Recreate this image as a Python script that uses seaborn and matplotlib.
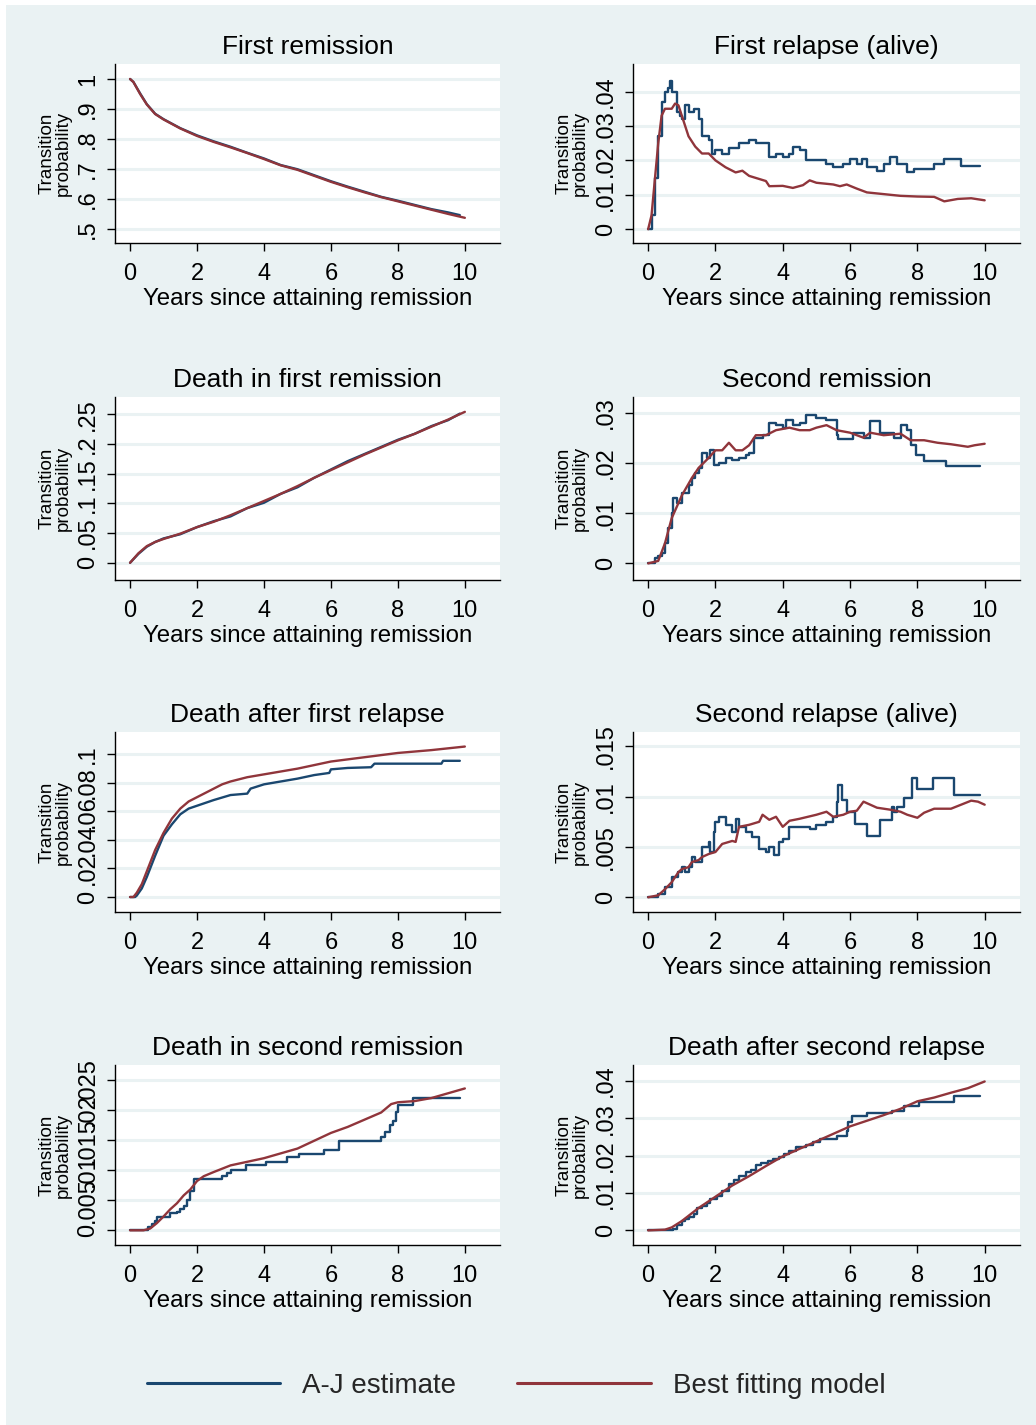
import matplotlib
matplotlib.use("Agg")
import matplotlib.pyplot as plt
import seaborn as sns
from matplotlib.lines import Line2D
from matplotlib.patches import Rectangle

sns.set_style("white")
plt.rcParams['font.family'] = ['Liberation Sans', 'DejaVu Sans']

NAVY = '#1A476F'
MAROON = '#90353B'
BG = '#EAF2F3'

# ---------------- data ----------------
titles = ["First remission", "First relapse (alive)",
          "Death in first remission", "Second remission",
          "Death after first relapse", "Second relapse (alive)",
          "Death in second remission", "Death after second relapse"]

# First remission
fr_aj_t = [0, 0.1, 0.3, 0.5, 0.75, 1, 1.5, 2, 2.5, 3, 3.5, 4, 4.5, 5, 5.5, 6, 6.5, 7, 7.5, 8, 8.5, 9, 9.5, 9.85]
fr_aj_p = [1, 0.99, 0.952, 0.916, 0.884, 0.866, 0.836, 0.812, 0.792, 0.774, 0.754, 0.735, 0.713, 0.699,
           0.679, 0.659, 0.641, 0.624, 0.607, 0.594, 0.58, 0.566, 0.555, 0.546]
fr_fit_t = [0, 0.1, 0.3, 0.5, 0.75, 1, 1.5, 2, 2.5, 3, 3.5, 4, 4.5, 5, 5.5, 6, 6.5, 7, 7.5, 8, 8.5, 9, 9.5, 10]
fr_fit_p = [1, 0.99, 0.95, 0.915, 0.883, 0.865, 0.835, 0.81, 0.79, 0.772, 0.753, 0.733, 0.712, 0.697,
            0.677, 0.657, 0.639, 0.622, 0.606, 0.592, 0.578, 0.564, 0.55, 0.537]

# First relapse (alive)
rl1_aj_t = [0, 0.1, 0.2, 0.3, 0.4, 0.5, 0.6, 0.65, 0.7, 0.85, 0.95, 1.0, 1.1, 1.2, 1.35, 1.5, 1.6, 1.8,
            1.9, 2.0, 2.2, 2.4, 2.7, 3.0, 3.2, 3.5, 3.6, 3.8, 4.0, 4.2, 4.3, 4.5, 4.7, 5.0, 5.3, 5.5,
            5.8, 6.0, 6.2, 6.35, 6.5, 6.8, 7.0, 7.2, 7.4, 7.7, 7.9, 8.5, 8.8, 9.3, 9.85]
rl1_aj_p = [0, 0.004, 0.015, 0.027, 0.037, 0.040, 0.041, 0.043, 0.040, 0.034, 0.033, 0.032, 0.036, 0.034,
            0.035, 0.032, 0.027, 0.026, 0.022, 0.023, 0.022, 0.0235, 0.025, 0.026, 0.025, 0.025, 0.021,
            0.022, 0.021, 0.022, 0.024, 0.023, 0.020, 0.020, 0.019, 0.018, 0.019, 0.0205, 0.019, 0.0205,
            0.018, 0.017, 0.019, 0.021, 0.019, 0.0165, 0.0175, 0.019, 0.0205, 0.0183, 0.0183]
rl1_fit_t = [0, 0.1, 0.3, 0.4, 0.5, 0.7, 0.8, 0.9, 1.0, 1.2, 1.4, 1.6, 1.8, 2.0, 2.3, 2.6, 2.8, 3.0, 3.5,
             3.6, 4.0, 4.3, 4.6, 4.8, 5.0, 5.5, 5.7, 5.9, 6.2, 6.5, 7.0, 7.5, 8.0, 8.5, 8.8, 9.2, 9.6, 10]
rl1_fit_p = [0, 0.004, 0.025, 0.033, 0.035, 0.035, 0.0365, 0.036, 0.033, 0.027, 0.024, 0.022, 0.022, 0.020,
             0.018, 0.0165, 0.017, 0.0155, 0.014, 0.0125, 0.0126, 0.012, 0.0128, 0.0142, 0.0135, 0.013,
             0.0125, 0.013, 0.0118, 0.0107, 0.0102, 0.0097, 0.0095, 0.0094, 0.0081, 0.0088, 0.009, 0.0084]

# Death in first remission
df1_aj_t = [0, 0.25, 0.5, 0.75, 1, 1.5, 2, 2.5, 3, 3.5, 4, 4.5, 5, 5.5, 6, 6.5, 7, 7.5, 8, 8.5, 9, 9.5, 9.85]
df1_aj_p = [0, 0.015, 0.027, 0.035, 0.041, 0.048, 0.06, 0.07, 0.078, 0.092, 0.101, 0.116, 0.127, 0.143,
            0.157, 0.171, 0.183, 0.195, 0.207, 0.217, 0.23, 0.24, 0.251]
df1_fit_t = [0, 0.25, 0.5, 0.75, 1, 1.5, 2, 2.5, 3, 3.5, 4, 4.5, 5, 5.5, 6, 6.5, 7, 7.5, 8, 8.5, 9, 9.5, 10]
df1_fit_p = [0, 0.016, 0.028, 0.035, 0.04, 0.049, 0.06, 0.069, 0.08, 0.092, 0.104, 0.116, 0.129, 0.143,
             0.156, 0.169, 0.182, 0.194, 0.206, 0.217, 0.229, 0.241, 0.254]

# Second remission
sr_aj_t = [0, 0.2, 0.3, 0.4, 0.5, 0.6, 0.7, 0.75, 0.85, 1.0, 1.2, 1.3, 1.4, 1.5, 1.6, 1.75, 1.85, 1.95,
           2.1, 2.3, 2.5, 2.7, 2.9, 3.0, 3.15, 3.4, 3.6, 3.8, 4.0, 4.1, 4.3, 4.5, 4.7, 5.0, 5.3, 5.6,
           5.65, 6.1, 6.4, 6.6, 6.9, 7.3, 7.5, 7.7, 7.8, 7.95, 8.2, 8.85, 9.85]
sr_aj_p = [0, 0.001, 0.0015, 0.002, 0.004, 0.007, 0.010, 0.013, 0.012, 0.014, 0.0155, 0.017, 0.018, 0.019,
           0.022, 0.021, 0.0225, 0.0195, 0.020, 0.021, 0.0205, 0.021, 0.0215, 0.022, 0.025, 0.0255, 0.028,
           0.0275, 0.027, 0.0285, 0.0275, 0.028, 0.0295, 0.029, 0.0285, 0.0255, 0.0248, 0.026, 0.025,
           0.0284, 0.026, 0.025, 0.0275, 0.0265, 0.0235, 0.0216, 0.0204, 0.0194, 0.0194]
sr_fit_t = [0, 0.3, 0.5, 0.7, 1.0, 1.3, 1.5, 1.8, 2.0, 2.2, 2.4, 2.6, 2.8, 3.0, 3.2, 3.5, 3.8, 4.2, 4.5,
            4.8, 5.0, 5.3, 5.6, 6.0, 6.4, 6.6, 7.0, 7.5, 7.8, 8.2, 8.6, 9.0, 9.5, 9.7, 10]
sr_fit_p = [0, 0.0005, 0.004, 0.009, 0.0135, 0.017, 0.019, 0.021, 0.0225, 0.0225, 0.024, 0.0225, 0.0225,
            0.0235, 0.0255, 0.0255, 0.0265, 0.027, 0.0265, 0.0265, 0.027, 0.0275, 0.0265, 0.026, 0.025,
            0.026, 0.0255, 0.0258, 0.0245, 0.0245, 0.024, 0.0237, 0.0232, 0.0235, 0.0238]

# Death after first relapse
dr1_aj_t = [0, 0.15, 0.2, 0.35, 0.5, 0.75, 1.0, 1.25, 1.5, 1.75, 2.0, 2.5, 3.0, 3.5, 3.6, 4.0, 4.5, 5.0,
            5.5, 5.95, 6.0, 6.5, 7.2, 7.3, 9.3, 9.35, 9.85]
dr1_aj_p = [0, 0, 0.001, 0.006, 0.014, 0.029, 0.043, 0.051, 0.058, 0.062, 0.064, 0.068, 0.0715, 0.0725,
            0.076, 0.079, 0.081, 0.083, 0.0855, 0.087, 0.0895, 0.0905, 0.091, 0.0935, 0.0935, 0.0955, 0.0955]
dr1_fit_t = [0, 0.1, 0.2, 0.35, 0.5, 0.75, 1.0, 1.25, 1.5, 1.75, 2.0, 2.25, 2.5, 2.75, 3.0, 3.5, 4.0, 4.5,
             5.0, 5.5, 6.0, 7.0, 8.0, 9.0, 10]
dr1_fit_p = [0, 0, 0.003, 0.009, 0.018, 0.033, 0.045, 0.055, 0.062, 0.067, 0.070, 0.073, 0.076, 0.079,
             0.081, 0.084, 0.086, 0.088, 0.090, 0.0925, 0.095, 0.098, 0.101, 0.103, 0.1055]

# Second relapse (alive)
rl2_aj_t = [0, 0.3, 0.5, 0.7, 0.9, 1.0, 1.1, 1.2, 1.3, 1.4, 1.6, 1.8, 1.85, 1.95, 2.0, 2.1, 2.3, 2.5, 2.6,
            2.7, 2.9, 3.1, 3.3, 3.5, 3.6, 3.75, 3.9, 4.0, 4.2, 4.5, 4.8, 5.0, 5.3, 5.5, 5.6, 5.65, 5.75,
            5.9, 6.15, 6.5, 6.9, 7.25, 7.3, 7.4, 7.6, 7.85, 8.0, 8.45, 9.1, 9.85]
rl2_aj_p = [0, 0.0003, 0.001, 0.002, 0.0025, 0.003, 0.0025, 0.003, 0.004, 0.0035, 0.005, 0.0055, 0.0045,
            0.0065, 0.0075, 0.008, 0.0072, 0.0065, 0.0078, 0.007, 0.0065, 0.006, 0.0048, 0.0045, 0.005,
            0.0042, 0.0055, 0.0058, 0.007, 0.007, 0.0068, 0.0072, 0.0075, 0.008, 0.0095, 0.0112, 0.0097,
            0.0085, 0.0073, 0.0061, 0.0077, 0.009, 0.0085, 0.009, 0.0099, 0.0119, 0.0108, 0.0119, 0.0102,
            0.0102]
rl2_fit_t = [0, 0.3, 0.5, 0.7, 0.8, 0.9, 1.0, 1.2, 1.3, 1.5, 1.6, 1.8, 2.0, 2.2, 2.5, 2.6, 2.7, 3.0, 3.3,
             3.4, 3.6, 3.8, 4.0, 4.2, 4.5, 5.0, 5.3, 5.5, 5.8, 6.0, 6.2, 6.4, 6.6, 6.8, 7.2, 7.5, 7.7, 8.0,
             8.2, 8.5, 9.0, 9.3, 9.6, 9.8, 10]
rl2_fit_p = [0, 0.0002, 0.0008, 0.0015, 0.002, 0.0025, 0.0028, 0.003, 0.0035, 0.0037, 0.004, 0.0043,
             0.0045, 0.0053, 0.0056, 0.0055, 0.007, 0.0072, 0.0075, 0.0082, 0.0077, 0.008, 0.007, 0.0076,
             0.0078, 0.0082, 0.0085, 0.008, 0.0082, 0.0085, 0.0086, 0.0095, 0.0092, 0.0089, 0.0087,
             0.0085, 0.0082, 0.0079, 0.0084, 0.0088, 0.0088, 0.0092, 0.0096, 0.0095, 0.0092]

# Death in second remission
ds2_aj_t = [0, 0.5, 0.55, 0.65, 0.75, 0.8, 1.1, 1.2, 1.4, 1.5, 1.6, 1.7, 1.8, 1.9, 2.65, 2.75, 2.9, 3.0,
            3.4, 3.45, 4.0, 4.05, 4.65, 4.7, 5.0, 5.05, 5.75, 5.8, 6.2, 6.25, 7.4, 7.5, 7.6, 7.75, 7.85,
            7.95, 8.0, 8.4, 8.45, 9.85]
ds2_aj_p = [0, 0, 0.0005, 0.001, 0.0015, 0.0022, 0.0022, 0.0028, 0.0031, 0.0035, 0.004, 0.005, 0.0065,
            0.0085, 0.0085, 0.009, 0.0096, 0.0101, 0.0101, 0.0108, 0.0108, 0.0113, 0.0113, 0.0122, 0.0122,
            0.0127, 0.0127, 0.0134, 0.0134, 0.0149, 0.0149, 0.0155, 0.0163, 0.0175, 0.0182, 0.0196,
            0.0209, 0.0209, 0.022, 0.022]
ds2_fit_t = [0, 0.4, 0.6, 0.8, 1.0, 1.2, 1.4, 1.6, 1.8, 2.0, 2.2, 2.5, 3.0, 3.5, 4.0, 4.5, 5.0, 5.5, 6.0,
             6.5, 7.0, 7.5, 7.8, 8.0, 8.5, 9.0, 9.5, 10]
ds2_fit_p = [0, 0, 0.0003, 0.0012, 0.0023, 0.0035, 0.0045, 0.0058, 0.0068, 0.0082, 0.009, 0.0097, 0.0108,
             0.0114, 0.012, 0.0128, 0.0136, 0.0149, 0.0162, 0.0172, 0.0184, 0.0196, 0.021, 0.0213, 0.0215,
             0.022, 0.0228, 0.0236]

# Death after second relapse
dr2_aj_t = [0, 0.6, 0.75, 0.85, 1.0, 1.1, 1.2, 1.35, 1.45, 1.6, 1.75, 1.85, 2.05, 2.2, 2.4, 2.55, 2.7,
            2.9, 3.05, 3.2, 3.35, 3.55, 3.7, 3.9, 4.05, 4.2, 4.4, 4.7, 4.9, 5.1, 5.6, 5.9, 5.95, 6.05,
            6.5, 7.25, 7.6, 8.05, 9.1, 9.85]
dr2_aj_p = [0, 0, 0.0005, 0.0015, 0.0025, 0.003, 0.0035, 0.0045, 0.006, 0.0065, 0.0072, 0.0085, 0.0093,
            0.0105, 0.0125, 0.0135, 0.0145, 0.0155, 0.0162, 0.0175, 0.018, 0.0185, 0.019, 0.0195, 0.0205,
            0.0213, 0.0222, 0.0228, 0.0236, 0.0245, 0.0252, 0.0265, 0.029, 0.0305, 0.0315, 0.032, 0.0333,
            0.0344, 0.036, 0.036]
dr2_fit_t = [0, 0.5, 0.7, 1.0, 1.5, 2.0, 2.5, 3.0, 3.5, 4.0, 4.5, 5.0, 5.5, 6.0, 6.5, 7.0, 7.5, 8.0, 8.5,
             9.0, 9.5, 10]
dr2_fit_p = [0, 0.0002, 0.0008, 0.0025, 0.006, 0.009, 0.012, 0.0145, 0.0172, 0.0198, 0.0218, 0.0238,
             0.0258, 0.0278, 0.0293, 0.0308, 0.0325, 0.0345, 0.0355, 0.0368, 0.038, 0.0398]

# y axis ticks and labels for each panel
yticks = [[0.5, 0.6, 0.7, 0.8, 0.9, 1.0], [0, 0.01, 0.02, 0.03, 0.04],
          [0, 0.05, 0.1, 0.15, 0.2, 0.25], [0, 0.01, 0.02, 0.03],
          [0, 0.02, 0.04, 0.06, 0.08, 0.1], [0, 0.005, 0.01, 0.015],
          [0, 0.005, 0.01, 0.015, 0.02, 0.025], [0, 0.01, 0.02, 0.03, 0.04]]
ylabels = [[".5", ".6", ".7", ".8", ".9", "1"], ["0", ".01", ".02", ".03", ".04"],
           ["0", ".05", ".1", ".15", ".2", ".25"], ["0", ".01", ".02", ".03"],
           ["0", ".02", ".04", ".06", ".08", ".1"], ["0", ".005", ".01", ".015"],
           ["0", ".005", ".01", ".015", ".02", ".025"], ["0", ".01", ".02", ".03", ".04"]]
xticks = [0, 2, 4, 6, 8, 10]
xlabels = ["0", "2", "4", "6", "8", "10"]

aj_series = [(fr_aj_t, fr_aj_p), (rl1_aj_t, rl1_aj_p), (df1_aj_t, df1_aj_p), (sr_aj_t, sr_aj_p),
             (dr1_aj_t, dr1_aj_p), (rl2_aj_t, rl2_aj_p), (ds2_aj_t, ds2_aj_p), (dr2_aj_t, dr2_aj_p)]
fit_series = [(fr_fit_t, fr_fit_p), (rl1_fit_t, rl1_fit_p), (df1_fit_t, df1_fit_p), (sr_fit_t, sr_fit_p),
              (dr1_fit_t, dr1_fit_p), (rl2_fit_t, rl2_fit_p), (ds2_fit_t, ds2_fit_p), (dr2_fit_t, dr2_fit_p)]
aj_stepped = [False, True, False, True, False, True, True, True]
ylims = [(0.453, 1.05), (-0.004, 0.048), (-0.029, 0.279), (-0.0033, 0.0331),
         (-0.0105, 0.1157), (-0.00146, 0.01642), (-0.00244, 0.0275), (-0.0039, 0.0442)]

# ---------------- layout ----------------
W, H = 1036, 1425
fig = plt.figure(figsize=(W / 100, H / 100), dpi=100, facecolor="white")
fig.patches.append(Rectangle((6 / W, 0), 1 - 6 / W, 1 - 5 / H, transform=fig.transFigure,
                             facecolor=BG, edgecolor="none", zorder=-10))

col_x = [(115, 500), (633, 1020)]
row_y = [(64, 243), (397, 580), (732, 912), (1065, 1245)]

for i in range(8):
    r, c = divmod(i, 2)
    x0, x1 = col_x[c]
    y0, y1 = row_y[r]
    ax = fig.add_axes([x0 / W, 1 - y1 / H, (x1 - x0) / W, (y1 - y0) / H])
    ax.set_facecolor("white")

    t, p = aj_series[i]
    kw = dict(drawstyle="steps-post") if aj_stepped[i] else {}
    sns.lineplot(x=t, y=p, ax=ax, color=NAVY, linewidth=1.7, **kw)
    t, p = fit_series[i]
    sns.lineplot(x=t, y=p, ax=ax, color=MAROON, linewidth=1.7)

    ax.set_xlim(-0.45, 11.05)
    ax.set_ylim(*ylims[i])
    ax.set_xticks(xticks)
    ax.set_xticklabels(xlabels)
    ax.set_yticks(yticks[i])
    ax.set_yticklabels(ylabels[i], rotation=90, va="center")

    ax.grid(axis="y", color=BG, linewidth=2.2)
    ax.grid(axis="x", visible=False)
    ax.set_axisbelow(True)
    for s in ("top", "right"):
        ax.spines[s].set_visible(False)
    for s in ("left", "bottom"):
        ax.spines[s].set_color("black")
        ax.spines[s].set_linewidth(1.0)
    ax.tick_params(axis="both", direction="out", length=5.5, width=1.0, color="black",
                   labelsize=17, labelcolor="black")
    ax.tick_params(axis="x", pad=9, bottom=True)
    ax.tick_params(axis="y", pad=6, left=True)

    ax.set_title(titles[i], fontsize=19, pad=7, color="black")
    ax.set_xlabel("Years since attaining remission", fontsize=17.3, labelpad=2, color="black")
    ax.set_ylabel("Transition\nprobability", fontsize=13.5, color="black", linespacing=0.95)
    ax.yaxis.set_label_coords(-0.113, 0.5)

handles = [Line2D([], [], color=NAVY, linewidth=2.2), Line2D([], [], color=MAROON, linewidth=2.2)]
fig.legend(handles, ["A-J estimate", "Best fitting model"], loc="center",
           bbox_to_anchor=(516 / W, 1 - 1386 / H), ncol=2, frameon=False, fontsize=20,
           handlelength=4.8, handletextpad=0.8, columnspacing=2.2)

fig.savefig("out.png", dpi=100, facecolor=fig.get_facecolor())
